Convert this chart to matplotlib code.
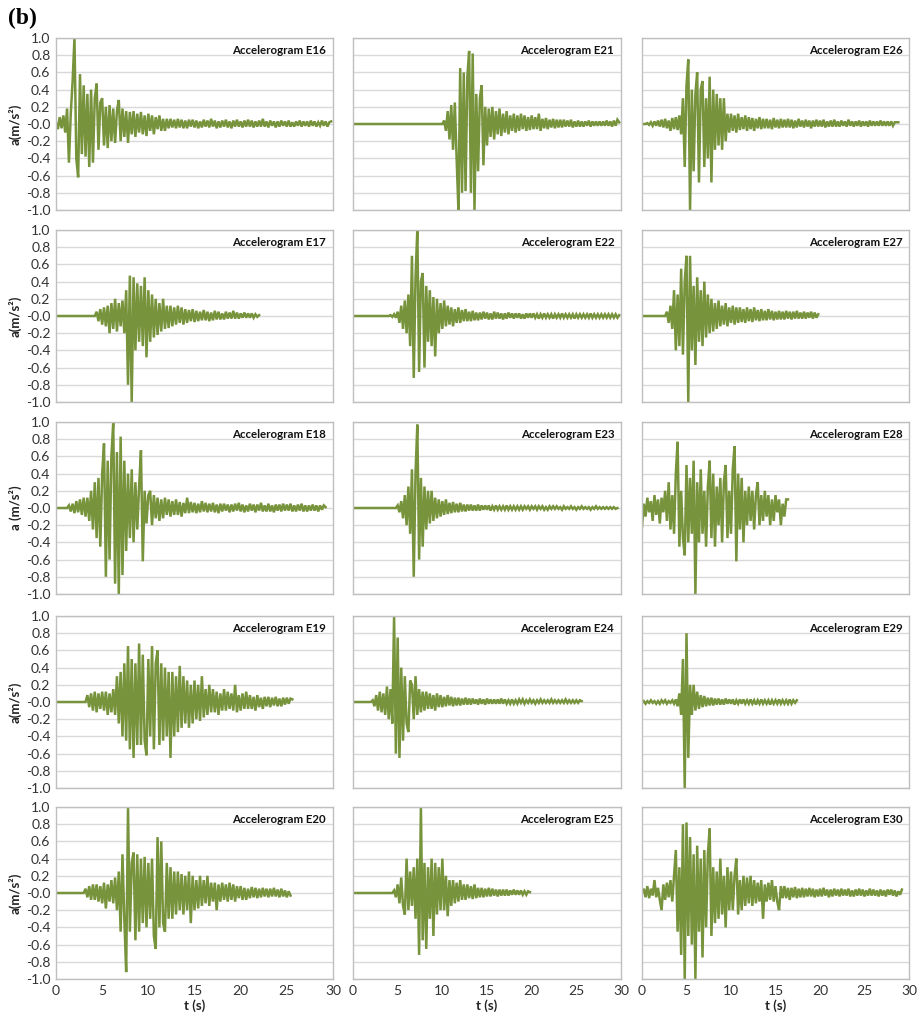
import matplotlib.pyplot as plt
import numpy as np

plt.rcParams['font.family'] = ['Lato', 'DejaVu Sans']

DT = 0.2  # step between digitised samples (s)

# panel layout: rows of records, left to right
grid_names = [['E16', 'E21', 'E26'],
              ['E17', 'E22', 'E27'],
              ['E18', 'E23', 'E28'],
              ['E19', 'E24', 'E29'],
              ['E20', 'E25', 'E30']]

# time (s) of the first digitised sample; before it the record is flat at 0
onset = {'E16': 0.0, 'E17': 4.2, 'E18': 1.2, 'E19': 3.2, 'E20': 3.0,
         'E21': 10.0, 'E22': 4.0, 'E23': 4.8, 'E24': 1.8, 'E25': 4.4,
         'E26': 0.0, 'E27': 1.8, 'E28': 0.0, 'E29': 0.0, 'E30': 0.0}

# acceleration values (m/s2), one line = 2 s
E16 = [0.02, -0.06, 0.08, -0.05, 0.10, -0.10, 0.18, -0.45, 0.12, 0.50,
       1.00, -0.40, -0.62, 0.58, -0.35, 0.45, -0.38, 0.35, -0.50, 0.40,
       -0.45, 0.30, 0.47, -0.30, 0.25, 0.30, -0.25, 0.20, -0.28, 0.22,
       -0.20, 0.18, -0.22, 0.15, 0.28, -0.20, 0.18, -0.15, 0.15, -0.22,
       0.14, -0.12, 0.15, -0.15, 0.12, -0.10, 0.14, -0.12, 0.10, -0.14,
       0.12, -0.08, 0.10, -0.12, 0.08, -0.06, 0.10, -0.08, 0.06, -0.08,
       0.06, -0.05, 0.06, -0.04, 0.05, -0.05, 0.06, -0.04, 0.05, -0.05,
       0.04, -0.05, 0.05, -0.03, 0.05, -0.04, 0.04, -0.05, 0.03, -0.04,
       0.05, -0.03, 0.04, -0.04, 0.06, -0.03, 0.04, -0.05, 0.03, -0.04,
       0.04, -0.03, 0.05, -0.04, 0.03, -0.05, 0.04, -0.03, 0.05, -0.03,
       0.03, -0.04, 0.04, -0.03, 0.05, -0.03, 0.04, -0.04, 0.03, -0.03,
       0.04, -0.03, 0.06, -0.03, 0.03, -0.04, 0.04, -0.02, 0.03, -0.04,
       0.03, -0.03, 0.04, -0.02, 0.03, -0.03, 0.04, -0.03, 0.02, -0.03,
       0.03, -0.02, 0.04, -0.03, 0.03, -0.02, 0.03, -0.03, 0.04, -0.02,
       0.03, -0.03, 0.02, -0.02, 0.04, -0.02, 0.03, -0.03, 0.02, 0.03]

E17 = [0.00, 0.05, -0.06, 0.08, -0.10, 0.10, -0.12, 0.12, -0.20, 0.15,
       -0.15, 0.20, -0.18, 0.15, -0.12, 0.18, -0.20, 0.30, -0.80, 0.47,
       -1.00, 0.45, -0.40, 0.38, -0.30, 0.35, -0.35, 0.45, -0.48, 0.30,
       -0.30, 0.25, -0.25, 0.20, -0.22, 0.15, -0.18, 0.20, -0.15, 0.12,
       -0.14, 0.12, -0.12, 0.10, -0.10, 0.12, -0.08, 0.10, -0.10, 0.08,
       -0.08, 0.07, -0.06, 0.08, -0.07, 0.06, -0.06, 0.05, -0.05, 0.07,
       -0.05, 0.05, -0.06, 0.04, -0.05, 0.06, -0.04, 0.05, -0.04, 0.03,
       -0.04, 0.05, -0.03, 0.04, -0.03, 0.06, -0.03, 0.04, -0.03, 0.03,
       -0.02, 0.04, -0.02, 0.03, -0.02, 0.03, -0.02, 0.02, -0.01, 0.01]

E18 = [0.00, 0.03, -0.04, 0.05, -0.06, 0.08, -0.05, 0.10, -0.08, 0.12,
       -0.10, 0.12, -0.15, 0.20, -0.25, 0.30, -0.35, 0.35, -0.45, 0.40,
       0.75, -0.80, 0.55, -0.60, 0.60, 1.00, -0.88, 0.65, -1.00, 0.83,
       -0.78, 0.55, -0.50, 0.40, -0.35, 0.45, -0.40, 0.30, -0.25, 0.25,
       0.67, -0.62, 0.20, -0.18, 0.15, 0.20, -0.20, 0.15, -0.12, 0.12,
       -0.15, 0.10, -0.12, 0.12, -0.08, 0.10, -0.10, 0.08, -0.08, 0.10,
       -0.08, 0.07, -0.10, 0.06, -0.06, 0.12, -0.06, 0.07, -0.05, 0.06,
       -0.06, 0.05, -0.05, 0.08, -0.04, 0.06, -0.05, 0.05, -0.04, 0.06,
       -0.05, 0.04, -0.06, 0.05, -0.04, 0.05, -0.03, 0.04, -0.05, 0.04,
       -0.04, 0.05, -0.03, 0.06, -0.04, 0.04, -0.05, 0.03, -0.04, 0.05,
       -0.03, 0.04, -0.05, 0.04, -0.03, 0.06, -0.04, 0.03, -0.04, 0.05,
       -0.04, 0.03, -0.05, 0.04, -0.03, 0.04, -0.04, 0.05, -0.03, 0.04,
       -0.03, 0.05, -0.04, 0.03, -0.04, 0.04, -0.03, 0.05, -0.04, 0.03,
       -0.04, 0.03, -0.03, 0.04, -0.03, 0.03, -0.04, 0.03, -0.02, 0.03,
       0.01]

E19 = [0.00, 0.08, -0.06, 0.10, -0.10, 0.12, -0.12, 0.10, -0.08, 0.12,
       -0.10, 0.12, -0.15, 0.10, -0.12, 0.15, -0.15, 0.30, -0.25, 0.35,
       -0.40, 0.45, -0.45, 0.65, -0.55, 0.50, -0.65, 0.45, -0.50, 0.68,
       -0.50, 0.55, -0.45, -0.62, 0.50, -0.40, 0.65, -0.55, 0.45, 0.60,
       -0.50, 0.45, -0.45, 0.40, -0.40, 0.35, -0.65, 0.35, -0.40, 0.30,
       -0.35, 0.42, -0.30, 0.30, -0.25, 0.25, -0.30, 0.20, -0.25, 0.25,
       -0.20, 0.20, -0.22, 0.30, -0.18, 0.15, -0.15, 0.20, -0.12, 0.15,
       -0.12, 0.12, -0.15, 0.10, -0.10, 0.15, -0.10, 0.12, -0.08, 0.10,
       -0.10, 0.20, -0.12, 0.08, -0.10, 0.10, -0.08, 0.12, -0.08, 0.08,
       -0.08, 0.06, -0.10, 0.08, -0.06, 0.05, -0.08, 0.06, -0.05, 0.06,
       -0.06, 0.05, -0.04, 0.06, -0.05, 0.04, -0.05, 0.05, -0.03, 0.05,
       -0.02, 0.04, 0.03]

E20 = [0.00, 0.05, -0.05, 0.08, -0.08, 0.10, -0.08, 0.10, -0.10, 0.08,
       -0.12, 0.12, -0.18, 0.10, -0.10, 0.15, -0.12, 0.18, -0.20, 0.25,
       -0.45, 0.45, -0.30, -0.92, 1.00, -0.45, 0.35, 0.47, -0.55, 0.45,
       -0.45, 0.40, -0.35, 0.42, -0.40, 0.35, -0.30, 0.40, -0.50, -0.65,
       0.65, -0.40, 0.60, -0.35, -0.45, 0.35, -0.30, 0.30, -0.30, 0.25,
       -0.25, 0.25, -0.20, 0.22, -0.25, 0.20, -0.20, 0.25, -0.35, 0.20,
       -0.20, 0.15, -0.18, 0.20, -0.15, 0.15, -0.12, 0.20, -0.15, 0.12,
       -0.10, 0.12, -0.20, 0.10, -0.10, 0.12, -0.08, 0.10, -0.10, 0.12,
       -0.08, 0.10, -0.10, 0.08, -0.06, 0.08, -0.08, 0.06, -0.08, 0.05,
       -0.06, 0.07, -0.05, 0.06, -0.06, 0.05, -0.05, 0.06, -0.04, 0.05,
       -0.05, 0.05, -0.04, 0.06, -0.04, 0.04, -0.05, 0.05, -0.04, 0.03,
       -0.05, 0.02, -0.03]

E21 = [0.00, 0.04, -0.08, 0.15, -0.18, 0.22, -0.30, 0.25, -0.40, -1.00,
       0.65, -0.80, 0.60, -0.78, 0.55, 0.85, -0.80, 0.82, -1.00, 0.35,
       -0.55, 0.30, 0.45, -0.48, 0.20, -0.25, 0.18, -0.15, 0.20, -0.18,
       0.15, -0.12, 0.18, -0.14, 0.12, -0.10, 0.15, -0.12, 0.10, -0.08,
       0.12, -0.10, 0.10, -0.08, 0.12, -0.06, 0.10, -0.08, 0.08, -0.07,
       0.10, -0.06, 0.08, -0.06, 0.12, -0.08, 0.06, -0.05, 0.07, -0.06,
       0.05, -0.04, 0.06, -0.05, 0.05, -0.04, 0.05, -0.04, 0.05, -0.03,
       0.04, -0.03, 0.05, -0.04, 0.03, -0.03, 0.04, -0.03, 0.03, -0.03,
       0.03, -0.02, 0.04, -0.03, 0.03, -0.02, 0.03, -0.02, 0.03, -0.02,
       0.03, -0.02, 0.04, -0.02, 0.03, -0.03, 0.04, -0.02, 0.05, 0.02]

E22 = [0.00, 0.01, -0.01, 0.02, -0.02, 0.05, -0.08, 0.12, -0.15, 0.18,
       -0.20, 0.25, -0.35, 0.70, -0.72, 0.45, 1.00, -0.65, 0.40, 0.50,
       -0.60, 0.35, -0.30, 0.30, -0.35, 0.22, -0.47, 0.20, -0.20, 0.15,
       -0.15, 0.18, -0.12, 0.12, -0.10, 0.10, -0.12, 0.08, -0.08, 0.10,
       -0.08, 0.07, -0.06, 0.08, -0.06, 0.05, -0.06, 0.06, -0.05, 0.04,
       -0.05, 0.04, -0.04, 0.05, -0.03, 0.04, -0.04, 0.03, -0.04, 0.05,
       -0.03, 0.04, -0.03, 0.03, -0.04, 0.03, -0.03, 0.04, -0.02, 0.03,
       -0.03, 0.03, -0.02, 0.03, -0.03, 0.02, -0.03, 0.03, -0.02, 0.03,
       -0.02, 0.03, -0.02, 0.02, -0.03, 0.02, -0.02, 0.03, -0.02, 0.02,
       -0.02, 0.02, -0.03, 0.02, -0.02, 0.02, -0.02, 0.03, -0.02, 0.02,
       -0.02, 0.02, -0.02, 0.02, -0.03, 0.02, -0.02, 0.02, -0.02, 0.02,
       -0.02, 0.02, -0.02, 0.03, -0.02, 0.02, -0.02, 0.02, -0.02, 0.02,
       -0.02, 0.02, -0.02, 0.02, -0.02, 0.02, -0.02, 0.02, -0.02, 0.01]

E23 = [0.00, 0.03, -0.05, 0.08, -0.12, 0.15, -0.20, 0.25, -0.30, 0.45,
       -0.80, 0.40, 0.97, -0.60, 0.35, -0.45, 0.25, -0.25, 0.20, -0.18,
       0.20, -0.15, 0.12, -0.12, 0.10, -0.10, 0.08, -0.08, 0.10, -0.07,
       0.06, -0.06, 0.07, -0.05, 0.05, -0.05, 0.06, -0.04, 0.04, -0.04,
       0.04, -0.03, 0.04, -0.03, 0.03, -0.03, 0.04, -0.03, 0.03, -0.02,
       0.03, -0.02, 0.03, -0.03, 0.02, -0.02, 0.03, -0.02, 0.02, -0.02,
       0.02, -0.02, 0.03, -0.02, 0.02, -0.02, 0.02, -0.02, 0.02, -0.02,
       0.02, -0.02, 0.02, -0.01, 0.02, -0.02, 0.02, -0.01, 0.02, -0.02,
       0.02, -0.01, 0.02, -0.02, 0.01, -0.02, 0.02, -0.01, 0.02, -0.01,
       0.02, -0.01, 0.01, -0.02, 0.02, -0.01, 0.01, -0.01, 0.02, -0.01,
       0.01, -0.02, 0.01, -0.01, 0.02, -0.01, 0.01, -0.01, 0.01, -0.02,
       0.01, -0.01, 0.02, -0.01, 0.01, -0.01, 0.01, -0.01, 0.01, -0.01,
       0.01, -0.01, 0.01, -0.01, 0.00]

E24 = [0.00, 0.00, 0.02, -0.05, 0.08, -0.10, 0.12, -0.12, 0.10, -0.15,
       0.18, -0.20, 0.15, -0.25, 1.00, -0.60, 0.75, -0.65, 0.40, -0.45,
       0.30, -0.25, -0.35, 0.25, 0.20, -0.20, 0.30, -0.15, 0.15, -0.12,
       0.12, -0.10, 0.12, -0.08, 0.10, -0.08, 0.08, -0.10, 0.10, -0.06,
       0.08, -0.06, 0.06, -0.05, 0.08, -0.04, 0.06, -0.05, 0.05, -0.04,
       0.05, -0.04, 0.04, -0.03, 0.05, -0.03, 0.04, -0.03, 0.04, -0.02,
       0.03, -0.03, 0.04, -0.02, 0.03, -0.03, 0.04, -0.02, 0.03, -0.02,
       0.03, -0.02, 0.03, -0.02, 0.04, -0.02, 0.03, -0.02, 0.02, -0.02,
       0.03, -0.02, 0.02, -0.02, 0.03, -0.01, 0.03, -0.02, 0.02, -0.01,
       0.03, -0.01, 0.02, -0.02, 0.02, -0.01, 0.03, -0.01, 0.02, -0.01,
       0.02, -0.01, 0.03, -0.01, 0.02, -0.01, 0.02, -0.01, 0.02, -0.01,
       0.03, -0.01, 0.02, -0.01, 0.02, -0.01, 0.02, -0.01, 0.02, 0.01]

E25 = [0.00, 0.03, -0.05, 0.10, -0.12, 0.18, -0.15, -0.25, 0.40, -0.20,
       0.25, -0.15, 0.30, -0.30, 0.40, -0.72, 1.00, -0.55, 0.35, -0.65,
       0.30, -0.30, 0.40, -0.50, 0.35, -0.25, 0.30, -0.20, 0.40, -0.20,
       0.20, -0.27, 0.15, -0.15, 0.15, -0.12, 0.12, -0.10, 0.15, -0.08,
       0.10, -0.08, 0.10, -0.06, 0.08, -0.07, 0.10, -0.06, 0.06, -0.05,
       0.06, -0.05, 0.05, -0.04, 0.06, -0.04, 0.05, -0.03, 0.04, -0.04,
       0.04, -0.03, 0.04, -0.03, 0.04, -0.03, 0.03, -0.02, 0.04, -0.02,
       0.03, -0.02, 0.03, -0.02, 0.02, -0.02, 0.02, 0.01]

E26 = [0.00, 0.00, 0.00, 0.01, -0.01, 0.02, -0.02, 0.03, -0.02, 0.04,
       -0.03, 0.05, -0.04, 0.06, -0.05, 0.04, -0.08, 0.07, -0.06, 0.08,
       -0.07, 0.10, -0.12, 0.30, -0.50, 0.45, 0.75, -1.00, 0.40, -0.55,
       0.35, 0.60, -0.68, 0.40, 0.50, -0.50, 0.30, -0.40, 0.55, -0.68,
       0.40, -0.30, 0.35, -0.25, 0.30, -0.30, 0.30, -0.20, 0.12, -0.10,
       0.12, -0.08, 0.10, -0.10, 0.12, -0.07, 0.08, -0.06, 0.10, -0.08,
       0.08, -0.06, 0.07, -0.08, 0.06, -0.05, 0.08, -0.06, 0.06, -0.05,
       0.06, -0.05, 0.05, -0.06, 0.07, -0.04, 0.05, -0.05, 0.06, -0.04,
       0.05, -0.04, 0.06, -0.04, 0.05, -0.05, 0.04, -0.04, 0.06, -0.03,
       0.04, -0.04, 0.05, -0.03, 0.04, -0.05, 0.04, -0.03, 0.05, -0.03,
       0.04, -0.03, 0.05, -0.04, 0.03, -0.03, 0.04, -0.03, 0.05, -0.03,
       0.03, -0.03, 0.04, -0.02, 0.03, -0.03, 0.05, -0.02, 0.03, -0.03,
       0.03, -0.02, 0.04, -0.03, 0.03, -0.02, 0.03, -0.03, 0.04, -0.02,
       0.03, -0.02, 0.03, -0.02, 0.04, -0.02, 0.03, -0.02, 0.03, -0.02,
       0.03, -0.02, 0.02, 0.02, 0.02]

E27 = [0.00, 0.00, 0.00, 0.00, 0.00, 0.05, -0.08, 0.12, -0.15, 0.30,
       -0.40, 0.25, -0.35, 0.55, -0.45, 0.40, 0.70, -1.00, 0.70, -0.40,
       0.35, -0.57, 0.45, -0.30, 0.30, -0.35, 0.40, -0.25, 0.25, -0.20,
       0.20, -0.18, 0.15, -0.15, 0.18, -0.12, 0.12, -0.10, 0.15, -0.12,
       0.10, -0.08, 0.12, -0.10, 0.10, -0.08, 0.10, -0.07, 0.08, -0.08,
       0.10, -0.06, 0.08, -0.07, 0.10, -0.05, 0.07, -0.06, 0.08, -0.05,
       0.06, -0.05, 0.08, -0.04, 0.06, -0.05, 0.05, -0.04, 0.06, -0.04,
       0.05, -0.04, 0.06, -0.03, 0.05, -0.04, 0.05, -0.03, 0.06, -0.03,
       0.04, -0.03, 0.05, -0.03, 0.04, -0.02, 0.05, -0.03, 0.04, -0.02,
       0.02]

E28 = [-0.22, 0.05, -0.10, 0.12, -0.05, 0.08, -0.15, 0.15, -0.08,
       0.10, -0.18, 0.12, -0.05, 0.20, -0.15, 0.30, -0.25, 0.15, -0.30,
       0.40, 0.77, -0.45, 0.20, -0.35, -0.55, 0.50, -0.40, 0.35, -0.30,
       0.55, -1.00, 0.30, -0.40, 0.45, -0.30, 0.20, -0.45, 0.25, 0.55,
       -0.35, 0.40, -0.45, 0.25, -0.20, 0.35, -0.40, 0.30, 0.50, -0.35,
       0.20, -0.30, 0.45, 0.72, -0.62, 0.40, -0.25, 0.35, -0.40, 0.20,
       -0.20, 0.25, -0.15, 0.20, -0.25, 0.15, 0.30, -0.20, 0.15, -0.15,
       0.20, -0.10, 0.15, -0.20, 0.10, -0.15, 0.15, -0.05, 0.10, -0.20,
       0.05, -0.10, 0.10, 0.10]

E29 = [-0.01, 0.01, -0.02, 0.01, -0.01, 0.02, -0.01, 0.01, -0.02,
       0.01, -0.02, 0.02, -0.01, 0.02, -0.02, 0.01, -0.01, 0.02, -0.02,
       0.03, -0.05, 0.10, -0.15, 0.50, -1.00, 0.80, -0.65, 0.20, -0.15,
       0.20, -0.10, 0.12, -0.08, 0.08, -0.06, 0.07, -0.05, 0.05, -0.04,
       0.05, -0.04, 0.04, -0.03, 0.04, -0.03, 0.03, -0.03, 0.04, -0.02,
       0.03, -0.02, 0.03, -0.03, 0.02, -0.02, 0.03, -0.02, 0.03, -0.02,
       0.02, -0.02, 0.03, -0.02, 0.02, -0.03, 0.02, -0.02, 0.03, -0.02,
       0.02, -0.02, 0.02, -0.03, 0.02, -0.02, 0.02, -0.02, 0.03, -0.02,
       0.02, -0.02, 0.02, -0.02, 0.03, -0.02, 0.02, -0.01, 0.02]

E30 = [0.00, 0.05, -0.05, 0.08, -0.06, 0.05, -0.03, 0.15, -0.05, 0.06,
       -0.08, -0.20, 0.10, -0.08, 0.12, -0.05, 0.15, -0.10, 0.20, 0.50,
       -0.45, 0.30, -0.72, 0.80, -1.00, 0.82, -0.50, 0.65, -0.60, 0.45,
       -1.00, 0.55, -0.45, 0.40, -0.75, 0.50, -0.40, 0.45, 0.75, -0.50,
       0.30, -0.35, 0.25, -0.30, 0.40, -0.25, 0.20, -0.40, 0.30, -0.20,
       0.25, -0.20, 0.20, 0.40, -0.25, 0.15, -0.20, 0.20, -0.15, 0.18,
       -0.12, 0.20, -0.15, 0.15, -0.12, 0.12, -0.10, 0.15, -0.30, 0.10,
       -0.10, 0.12, -0.08, 0.15, -0.10, 0.08, -0.10, -0.20, 0.08, -0.06,
       0.08, -0.06, 0.06, -0.08, 0.06, -0.05, 0.07, -0.06, 0.05, -0.05,
       0.06, -0.05, 0.05, -0.04, 0.06, -0.04, 0.05, -0.05, 0.04, -0.04,
       0.05, -0.04, 0.06, -0.03, 0.04, -0.05, 0.04, -0.04, 0.05, -0.03,
       0.04, -0.04, 0.05, -0.03, 0.04, -0.03, 0.05, -0.04, 0.03, -0.04,
       0.04, -0.03, 0.05, -0.03, 0.04, -0.04, 0.03, -0.03, 0.05, -0.03,
       0.04, -0.03, 0.03, -0.04, 0.04, -0.03, 0.03, -0.04, 0.04, -0.02,
       0.04, -0.03, 0.03, -0.04, 0.02, -0.02, 0.04]

records = {'E16': E16, 'E17': E17, 'E18': E18, 'E19': E19, 'E20': E20,
           'E21': E21, 'E22': E22, 'E23': E23, 'E24': E24, 'E25': E25,
           'E26': E26, 'E27': E27, 'E28': E28, 'E29': E29, 'E30': E30}

yticks = np.round(np.arange(-1.0, 1.01, 0.2), 1)
xticks = [0, 5, 10, 15, 20, 25, 30]

green = '#77933C'
W, H = 917, 1014
fig = plt.figure(figsize=(W / 100, H / 100), dpi=100)

col_left = [56, 353, 642]
col_width = [277, 268, 267]
row_top = [38, 230, 422, 616, 807]
row_h = 172

for r, row in enumerate(grid_names):
    for c, name in enumerate(row):
        ax = fig.add_axes([col_left[c] / W, 1 - (row_top[r] + row_h) / H,
                           col_width[c] / W, row_h / H])
        vals = np.array(records[name])
        t = onset[name] + DT * np.arange(len(vals))
        if onset[name] > 0:
            t = np.r_[0.0, t]
            vals = np.r_[0.0, vals]
        ax.plot(t, vals, color=green, lw=1.8, solid_joinstyle='miter')
        ax.set_xlim(0, 30)
        ax.set_ylim(-1, 1)
        ax.set_yticks(yticks)
        ax.set_xticks(xticks)
        ax.grid(axis='y', color='#D9D9D9', lw=1)
        ax.set_axisbelow(True)
        for s in ax.spines.values():
            s.set_color('#BFBFBF')
            s.set_linewidth(1)
        ax.tick_params(length=0, labelsize=10, colors='#333333', pad=4)
        if c == 0:
            ax.set_yticklabels(['%.1f' % v for v in yticks])
            lab = 'a (m/s²)' if r == 2 else 'a(m/s²)'
            ax.set_ylabel(lab, fontsize=9.5, fontweight='bold', color='#222222', labelpad=3)
        else:
            ax.set_yticklabels([])
        if r == len(grid_names) - 1:
            ax.set_xlabel('t (s)', fontsize=9.5, fontweight='bold', color='#222222', labelpad=2)
        else:
            ax.set_xticklabels([])
        ax.text(0.975, 0.93, 'Accelerogram ' + name, transform=ax.transAxes,
                ha='right', va='center', fontsize=8.3, fontweight='bold', color='#111111')

fig.text(8 / W, 1 - 18 / H, '(b)', fontsize=17, fontweight='bold',
         family='Liberation Serif', va='center', ha='left')

fig.savefig('out.png', dpi=100)
